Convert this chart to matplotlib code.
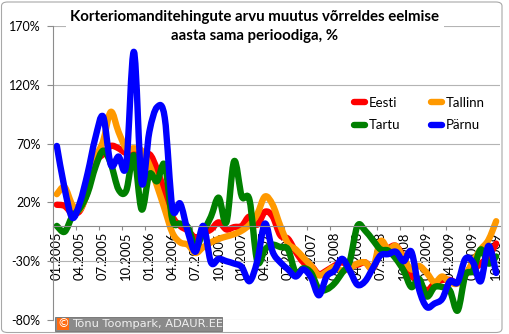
import matplotlib
matplotlib.use("Agg")
import matplotlib.pyplot as plt
from matplotlib.path import Path
from matplotlib.patches import PathPatch, FancyBboxPatch, Rectangle
from matplotlib.lines import Line2D

# ---- data ----
tick_labels = ["01.2005", "04.2005", "07.2005", "10.2005",
               "01.2006", "04.2006", "07.2006", "10.2006",
               "01.2007", "04.2007", "07.2007", "10.2007",
               "01.2008", "04.2008", "07.2008", "10.2008",
               "01.2009", "04.2009", "07.2009", "10.2009"]

series_names = ["Eesti", "Tallinn", "Tartu", "Pärnu"]

eesti = [18, 17, 11, 13, 30, 54, 61, 68, 66, 62,
         64, 55, 61, 48, 28, 8, 0, -4, -10, -6,
         -3, 3, -3, -1, 0, 8, 1, 12, 8, -8,
         -11, -22, -31, -34, -41, -38, -34, -31, -34, -33,
         -31, -36, -22, -19, -17, -27, -42, -48, -55, -49,
         -46, -46, -48, -40, -37, -32, -26, -15]

tallinn = [27, 33, 18, 14, 30, 57, 72, 97, 80, 66,
           66, 64, 52, 34, 14, -6, -14, -16, -23, -18,
           -14, -11, -9, -7, -4, 1, 10, 25, 18, 0,
           -15, -20, -27, -34, -42, -39, -35, -38, -36, -32,
           -31, -36, -13, -20, -17, -28, -37, -34, -40, -48,
           -43, -48, -49, -42, -30, -20, -12, 4]

tartu = [0, -5, 8, 15, 28, 50, 64, 53, 31, 30,
         60, 14, 44, 38, 52, 5, 2, -1, -18, -5,
         8, 24, 3, 55, 25, 22, -30, -20, -16, -18,
         -20, -40, -36, -40, -54, -54, -49, -40, -30, 0,
         -4, -12, -20, -21, -28, -38, -52, -45, -60, -52,
         -52, -55, -72, -42, -38, -20, -32, -26]

parnu = [68, 32, 7, 20, 45, 75, 93, 52, 59, 52,
         148, 37, 80, 101, 92, 15, 19, -5, -22, 0,
         -31, -28, -30, -32, -35, -47, -30, 2, -22, -31,
         -37, -43, -37, -44, -59, -43, -38, -28, -38, -50,
         -47, -36, -25, -24, -22, -30, -22, -54, -69, -66,
         -62, -47, -48, -28, -31, -47, -17, -40]

colors = ["#FF0000", "#FF9900", "#008000", "#0000FF"]
y_ticks = [-80, -30, 20, 70, 120, 170]

# ---- figure ----
W, H = 510, 334
fig = plt.figure(figsize=(W / 100, H / 100), dpi=100)
fig.patch.set_facecolor("white")

border = FancyBboxPatch((1.5 / W, 1.5 / H), 500.5 / W, 330.5 / H,
                        boxstyle="round,pad=0,rounding_size=0.012",
                        transform=fig.transFigure, facecolor="white",
                        edgecolor="#a8a8a8", lw=0.8, zorder=-1)
fig.patches.append(border)

ax = fig.add_axes([53 / W, 1 - 320 / H, (500 - 53) / W, (320 - 26) / H])
ax.set_facecolor("none")

n = len(eesti)
xs = list(range(n))


def smooth_path(x, y):
    verts = [(x[0], y[0])]
    codes = [Path.MOVETO]
    m = len(x)
    for i in range(m - 1):
        p0 = i - 1 if i > 0 else i
        p3 = i + 2 if i + 2 < m else i + 1
        c1 = (x[i] + (x[i + 1] - x[p0]) / 6.0, y[i] + (y[i + 1] - y[p0]) / 6.0)
        c2 = (x[i + 1] - (x[p3] - x[i]) / 6.0, y[i + 1] - (y[p3] - y[i]) / 6.0)
        verts += [c1, c2, (x[i + 1], y[i + 1])]
        codes += [Path.CURVE4] * 3
    return Path(verts, codes)


for vals, col in zip([eesti, tallinn, tartu, parnu], colors):
    patch = PathPatch(smooth_path(xs, vals), facecolor="none", edgecolor=col,
                      lw=4.6, capstyle="round", joinstyle="round", zorder=2)
    ax.add_patch(patch)

ax.set_xlim(-0.5, n - 0.5)
ax.set_ylim(-80, 170)

# y axis
ax.set_yticks(y_ticks)
ax.set_yticklabels([f"{v}%" for v in y_ticks])
ax.yaxis.grid(True, color="#b4b4b4", lw=0.8)
ax.set_axisbelow(True)
ax.tick_params(axis="y", direction="out", length=4, width=0.8,
               color="#8c8c8c", pad=5, labelsize=9)

# x axis at zero
ax.spines["bottom"].set_position(("data", 0))
for s in ["top", "right"]:
    ax.spines[s].set_visible(False)
for s in ["left", "bottom"]:
    ax.spines[s].set_color("#8c8c8c")
    ax.spines[s].set_linewidth(0.8)

ax.set_xticks(list(range(0, n, 3)))
ax.set_xticklabels(tick_labels, rotation=90)
ax.set_xticks([k - 0.5 for k in range(0, n, 3)], minor=True)
ax.tick_params(axis="x", which="major", length=0, pad=4, labelsize=9.4)
ax.tick_params(axis="x", which="minor", direction="out", length=3,
               width=0.8, color="#8c8c8c")
for lab in ax.get_xticklabels():
    lab.set_zorder(5)

for lab in ax.get_xticklabels() + ax.get_yticklabels():
    lab.set_fontfamily("Lato")

# legend (row-wise order: Eesti, Tallinn / Tartu, Pärnu)
handles = [Line2D([0], [0], color=c, lw=4.6, solid_capstyle="round")
           for c in colors]
order = [0, 2, 1, 3]
leg = ax.legend([handles[k] for k in order], [series_names[k] for k in order],
                loc="upper left",
                bbox_to_anchor=(354 / W, 1 - 97 / H),
                bbox_transform=fig.transFigure, ncol=2, frameon=False,
                borderpad=0, borderaxespad=0,
                handlelength=0.85, handletextpad=0.25, columnspacing=2.35,
                labelspacing=0.78, prop={"family": "Lato", "size": 9.5})

# title
fig.text(255 / W, 1 - 26.5 / H,
         "Korteriomanditehingute arvu muutus võrreldes eelmise\naasta sama perioodiga, %",
         ha="center", va="center", fontsize=10.85, fontweight="bold",
         family="Lato", linespacing=1.4, zorder=5,
         bbox=dict(facecolor="white", edgecolor="none", pad=3))

# copyright box
fig.patches.append(Rectangle((55 / W, 1 - 331 / H), 167 / W, 14 / H,
                             transform=fig.transFigure, facecolor="#8a8a8a",
                             edgecolor="#6e6e6e", lw=0.6, zorder=6))
fig.patches.append(Rectangle((57 / W, 1 - 330 / H), 12 / W, 12 / H,
                             transform=fig.transFigure, facecolor="#FF6A10",
                             edgecolor="none", zorder=7))
fig.text(63 / W, 1 - 324 / H, "©", ha="center", va="center", color="white",
         fontsize=8.5, family="DejaVu Sans", zorder=8)
fig.text(72 / W, 1 - 324 / H, "Tõnu Toompark, ADAUR.EE", ha="left",
         va="center", color="#f0f0f0", fontsize=8.2, family="DejaVu Sans",
         zorder=8)

fig.savefig("out.png", dpi=100, facecolor="white")
